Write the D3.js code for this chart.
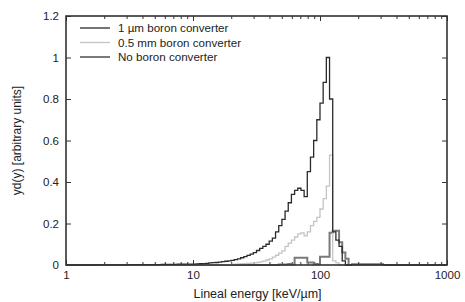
<!DOCTYPE html>
<html lang="en">
<meta charset="utf-8">
<head>
    <script src="https://d3js.org/d3.v7.min.js"></script>
    <style>
        body { margin: 0; background: #fff; }
        text { font-family: "Liberation Sans", Arial, sans-serif; }
    </style>
</head>
<body>
<div id="chart"></div>
<script>
// bin edges in keV/um (log spaced, finer near the peak)
const binEdges = [1, 1.78, 3.16, 5.62, 7.5,
    10, 10.59, 11.22, 11.89, 12.59, 13.34, 14.13, 14.96, 15.85, 16.79,
    17.78, 18.84, 19.95, 21.13, 22.39, 23.71, 25.12, 26.61, 28.18, 29.85,
    31.62, 33.50, 35.48, 37.58, 39.81, 42.17, 44.67, 47.32, 50.12, 53.09,
    56.23, 59.57, 63.10, 66.83, 70.79, 74.99, 79.43, 84.14, 89.13, 94.41,
    100, 105.9, 112.2, 118.9, 125.9, 133.4, 141.3, 149.6, 158.5, 167.9,
    177.8, 316, 562, 1000];

// yd(y) per bin
const boron1um = [0, 0.001, 0.002, 0.003, 0.004,
    0.004, 0.005, 0.006, 0.007, 0.008, 0.01, 0.011, 0.012, 0.014, 0.016,
    0.018, 0.02, 0.022, 0.026, 0.03, 0.035, 0.04, 0.046, 0.052, 0.06,
    0.07, 0.08, 0.09, 0.10, 0.115, 0.13, 0.16, 0.19, 0.22, 0.26,
    0.30, 0.34, 0.36, 0.37, 0.36, 0.33, 0.45, 0.52, 0.60, 0.70,
    0.78, 0.88, 1.0, 0.80, 0.16, 0.12, 0.09, 0.02, 0, 0,
    0.004, 0, 0];

const boron05mm = [0, 0, 0, 0, 0,
    0, 0, 0, 0, 0, 0, 0, 0, 0.001, 0.001,
    0.002, 0.002, 0.003, 0.004, 0.005, 0.006, 0.007, 0.008, 0.009, 0.01,
    0.012, 0.015, 0.019, 0.024, 0.03, 0.038, 0.047, 0.057, 0.068, 0.09,
    0.105, 0.12, 0.135, 0.15, 0.155, 0.14, 0.16, 0.19, 0.21, 0.23,
    0.27, 0.32, 0.38, 0.53, 0.02, 0.01, 0, 0, 0, 0,
    0, 0, 0];

const noBoron = [0, 0, 0, 0, 0,
    0, 0, 0, 0, 0, 0, 0, 0, 0, 0,
    0, 0, 0, 0, 0, 0, 0, 0, 0, 0,
    0, 0, 0, 0, 0, 0, 0, 0.002, 0.003, 0.003,
    0.005, 0.003, 0.035, 0.035, 0.035, 0.035, 0.012, 0.012, 0.005, 0.005,
    0.04, 0.04, 0.04, 0.155, 0.165, 0.165, 0.11, 0.06, 0.03, 0,
    0, 0, 0];

const seriesNames = ["1 \u00b5m boron converter", "0.5 mm boron converter", "No boron converter"];
const seriesColors = ["#2b2b2b", "#c4c4c4", "#7a7a7a"];
const seriesWidths = [1.3, 1.3, 2];

const xTicks = [1, 10, 100, 1000];
const xMinor = [2, 3, 4, 5, 6, 7, 8, 9, 20, 30, 40, 50, 60, 70, 80, 90, 200, 300, 400, 500, 600, 700, 800, 900];
const yTicks = [0, 0.2, 0.4, 0.6, 0.8, 1, 1.2];
const yTickLabels = ["0", "0.2", "0.4", "0.6", "0.8", "1", "1.2"];

// Set Dimensions
const width = 465, height = 302;
const plotLeft = 66, plotRight = 447, plotTop = 16, plotBottom = 265;

const svg = d3.select("#chart").append("svg")
    .attr("width", width)
    .attr("height", height);

const x = d3.scaleLog().domain([1, 1000]).range([plotLeft, plotRight]);
const y = d3.scaleLinear().domain([0, 1.2]).range([plotBottom, plotTop]);

// axes with inward ticks (gnuplot style)
const axisColor = "#333";
function styleAxis(g) {
    g.select(".domain").remove();
    g.selectAll("line").attr("stroke", axisColor);
    g.selectAll("text").attr("fill", "#222").attr("font-size", 11.5);
}

svg.append("g")
    .attr("transform", `translate(0,${plotBottom})`)
    .call(d3.axisBottom(x).tickValues(xTicks).tickFormat((d, i) => xTicks[i]).tickSizeInner(-5).tickSizeOuter(0).tickPadding(6))
    .call(styleAxis);
svg.append("g")
    .attr("transform", `translate(0,${plotBottom})`)
    .call(d3.axisBottom(x).tickValues(xMinor).tickFormat("").tickSizeInner(-3).tickSizeOuter(0))
    .call(styleAxis);
svg.append("g")
    .attr("transform", `translate(0,${plotTop})`)
    .call(d3.axisTop(x).tickValues(xTicks).tickFormat("").tickSizeInner(-5).tickSizeOuter(0))
    .call(styleAxis);
svg.append("g")
    .attr("transform", `translate(0,${plotTop})`)
    .call(d3.axisTop(x).tickValues(xMinor).tickFormat("").tickSizeInner(-3).tickSizeOuter(0))
    .call(styleAxis);

svg.append("g")
    .attr("transform", `translate(${plotLeft},0)`)
    .call(d3.axisLeft(y).tickValues(yTicks).tickFormat((d, i) => yTickLabels[i]).tickSizeInner(-5).tickSizeOuter(0).tickPadding(7))
    .call(styleAxis);
svg.append("g")
    .attr("transform", `translate(${plotRight},0)`)
    .call(d3.axisRight(y).tickValues(yTicks).tickFormat("").tickSizeInner(-5).tickSizeOuter(0))
    .call(styleAxis);

// step histograms
const allSeries = [boron1um, boron05mm, noBoron];
const line = d3.line()
    .x(d => x(d[0]))
    .y(d => y(d[1]))
    .curve(d3.curveStepAfter);

// draw order: no boron below, then 0.5 mm, then 1 um on top
[2, 1, 0].forEach(s => {
    const vals = allSeries[s];
    const pts = vals.map((v, i) => [binEdges[i], v]);
    pts.push([binEdges[binEdges.length - 1], vals[vals.length - 1]]);
    svg.append("path")
        .datum(pts)
        .attr("fill", "none")
        .attr("stroke", seriesColors[s])
        .attr("stroke-width", seriesWidths[s])
        .attr("d", line);
});

// frame
svg.append("rect")
    .attr("x", plotLeft).attr("y", plotTop)
    .attr("width", plotRight - plotLeft).attr("height", plotBottom - plotTop)
    .attr("fill", "none")
    .attr("stroke", axisColor)
    .attr("stroke-width", 1.6);

// legend
const legend = svg.append("g");
seriesNames.forEach((name, i) => {
    const ly = 28 + i * 14.5;
    legend.append("line")
        .attr("x1", 80).attr("x2", 110)
        .attr("y1", ly).attr("y2", ly)
        .attr("stroke", seriesColors[i])
        .attr("stroke-width", seriesWidths[i]);
    legend.append("text")
        .attr("x", 118).attr("y", ly)
        .attr("dy", "0.35em")
        .attr("font-size", 11.6)
        .attr("fill", "#222")
        .text(name);
});

// axis titles
svg.append("text")
    .attr("x", (plotLeft + plotRight) / 2 + 1).attr("y", 298)
    .attr("text-anchor", "middle")
    .attr("font-size", 12.5)
    .attr("fill", "#222")
    .text("Lineal energy [keV/\u00b5m]");
svg.append("text")
    .attr("transform", `translate(21,${(plotTop + plotBottom) / 2}) rotate(-90)`)
    .attr("text-anchor", "middle")
    .attr("font-size", 12)
    .attr("fill", "#222")
    .text("yd(y) [arbitrary units]");
</script>
</body>
</html>
